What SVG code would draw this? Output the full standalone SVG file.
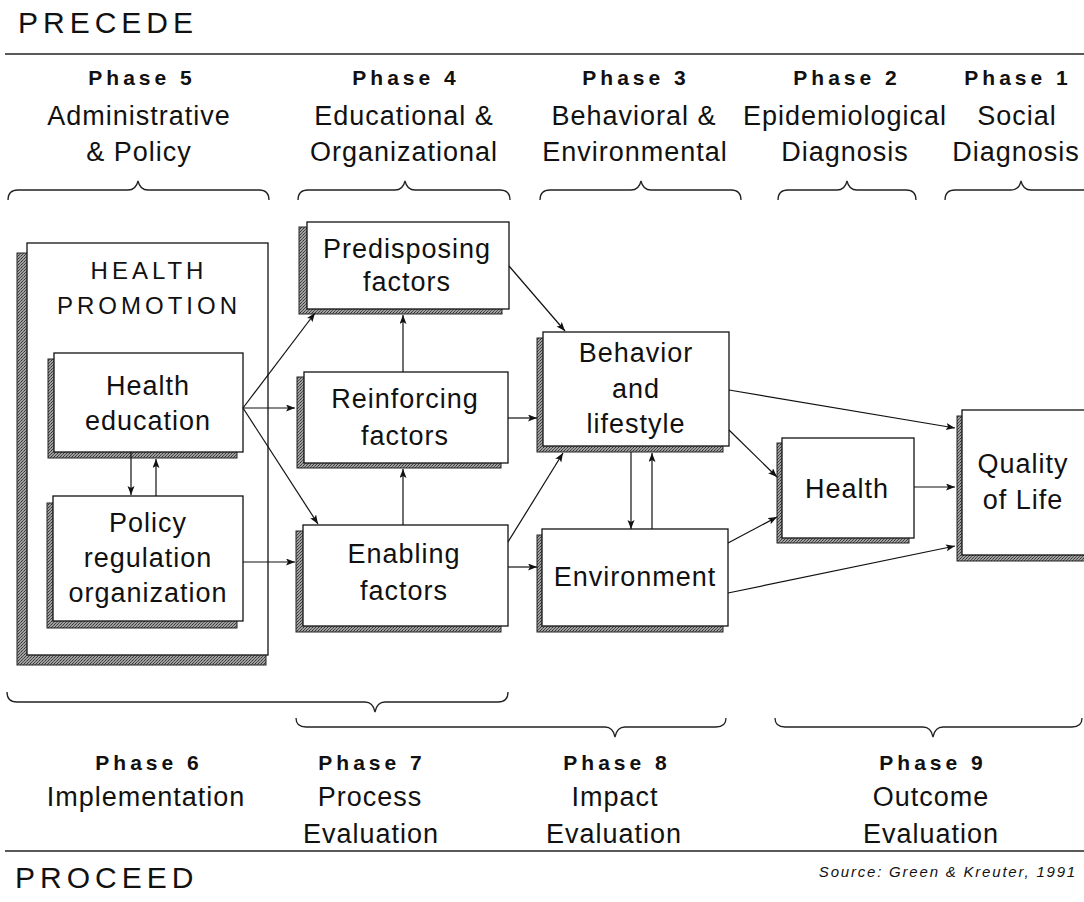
<svg xmlns="http://www.w3.org/2000/svg" width="1084" height="902" viewBox="0 0 1084 902">
<style>
.t{font-family:"Liberation Sans",Arial,sans-serif;font-size:27px;letter-spacing:1px;fill:#111;text-anchor:middle}
.h{font-family:"Liberation Sans",Arial,sans-serif;font-size:21px;font-weight:bold;letter-spacing:4px;fill:#111;text-anchor:middle}
.big{font-family:"Liberation Sans",Arial,sans-serif;font-size:30px;letter-spacing:5px;fill:#111}
.caps{font-family:"Liberation Sans",Arial,sans-serif;font-size:24px;letter-spacing:4px;fill:#111;text-anchor:middle}
.src{font-family:"Liberation Sans",Arial,sans-serif;font-size:15px;font-style:italic;letter-spacing:1.8px;fill:#111;text-anchor:end}
.box{fill:#fff;stroke:#111;stroke-width:1.3}
.sh{fill:url(#stip);stroke:#222;stroke-width:1}
.br{fill:none;stroke:#222;stroke-width:1.3}
.rule{stroke:#222;stroke-width:1.5}
.c line{stroke:#111;stroke-width:1.2;marker-end:url(#ah)}
</style>
<defs>
<pattern id="stip" width="3" height="3" patternUnits="userSpaceOnUse">
<rect width="3" height="3" fill="#a0a0a0"/>
<rect width="1" height="1" fill="#333"/>
<rect x="2" y="1" width="1" height="1" fill="#555"/>
<rect x="1" y="2" width="1" height="1" fill="#444"/>
</pattern>
<marker id="ah" markerUnits="userSpaceOnUse" markerWidth="10" markerHeight="8" refX="9" refY="3.5" orient="auto">
<path d="M0,0 L9,3.5 L0,7 L2,3.5 z" fill="#111"/>
</marker>
</defs>
<rect width="1084" height="902" fill="#fff"/>

<!-- titles and rules -->
<text class="big" x="18" y="33">PRECEDE</text>
<line class="rule" x1="5" y1="54" x2="1084" y2="54"/>
<line class="rule" x1="5" y1="851" x2="1084" y2="851"/>
<text class="big" x="15" y="888">PROCEED</text>
<text class="src" x="1077" y="877">Source: Green &amp; Kreuter, 1991</text>

<!-- top phase labels -->
<g id="phase5"><text class="h" x="142" y="85">Phase 5</text><text class="t" x="139" y="125">Administrative</text><text class="t" x="139" y="161">&amp; Policy</text></g>
<g id="phase4"><text class="h" x="406" y="85">Phase 4</text><text class="t" x="404" y="125">Educational &amp;</text><text class="t" x="404" y="161">Organizational</text></g>
<g id="phase3"><text class="h" x="636" y="85">Phase 3</text><text class="t" x="634" y="125">Behavioral &amp;</text><text class="t" x="635" y="161">Environmental</text></g>
<g id="phase2"><text class="h" x="847" y="85">Phase 2</text><text class="t" x="845" y="125">Epidemiological</text><text class="t" x="845" y="161">Diagnosis</text></g>
<g id="phase1"><text class="h" x="1018" y="85">Phase 1</text><text class="t" x="1017" y="125">Social</text><text class="t" x="1016" y="161">Diagnosis</text></g>

<!-- top braces -->
<g id="topbraces">
<path class="br" d="M8,200 Q8,190 18,190 L128,190 Q136,190 138,181 Q140,190 148,190 L259,190 Q269,190 269,200"/>
<path class="br" d="M298,200 Q298,190 308,190 L395,190 Q403,190 405,181 Q407,190 415,190 L500,190 Q510,190 510,200"/>
<path class="br" d="M540,200 Q540,190 550,190 L631,190 Q639,190 641,181 Q643,190 651,190 L731,190 Q741,190 741,200"/>
<path class="br" d="M778,200 Q778,190 788,190 L837,190 Q845,190 847,181 Q849,190 857,190 L906,190 Q916,190 916,200"/>
<path class="br" d="M945,200 Q945,190 955,190 L1011,190 Q1019,190 1021,181 Q1023,190 1031,190 L1084,190"/>
</g>

<!-- bottom braces -->
<g id="bottombraces">
<path class="br" d="M7,692 Q7,702 17,702 L365,702 Q373,702 375,712 Q377,702 385,702 L498,702 Q508,702 508,692"/>
<path class="br" d="M296,718 Q296,727 306,727 L605,727 Q613,727 615,737 Q617,727 625,727 L716,727 Q726,727 726,718"/>
<path class="br" d="M775,718 Q775,727 785,727 L923,727 Q931,727 933,737 Q935,727 943,727 L1072,727 Q1082,727 1082,718"/>
</g>

<!-- bottom phase labels -->
<g id="phase6"><text class="h" x="149" y="770">Phase 6</text><text class="t" x="146" y="806">Implementation</text></g>
<g id="phase7"><text class="h" x="372" y="770">Phase 7</text><text class="t" x="370" y="806">Process</text><text class="t" x="371" y="843">Evaluation</text></g>
<g id="phase8"><text class="h" x="617" y="770">Phase 8</text><text class="t" x="615" y="806">Impact</text><text class="t" x="614" y="843">Evaluation</text></g>
<g id="phase9"><text class="h" x="933" y="770">Phase 9</text><text class="t" x="931" y="806">Outcome</text><text class="t" x="931" y="843">Evaluation</text></g>

<!-- nodes -->
<g id="health-promotion">
<rect class="sh" x="17" y="253" width="249" height="412"/>
<rect class="box" x="27" y="243" width="241" height="412"/>
<text class="caps" x="149" y="279">HEALTH</text>
<text class="caps" x="149" y="314">PROMOTION</text>
</g>
<g id="health-education">
<rect class="sh" x="48" y="359" width="189" height="99"/>
<rect class="box" x="54" y="353" width="189" height="99"/>
<text class="t" x="148" y="395">Health</text>
<text class="t" x="148" y="430">education</text>
</g>
<g id="policy">
<rect class="sh" x="47" y="503" width="190" height="125"/>
<rect class="box" x="53" y="496" width="190" height="125"/>
<text class="t" x="148" y="532">Policy</text>
<text class="t" x="148" y="567">regulation</text>
<text class="t" x="148" y="602">organization</text>
</g>
<g id="predisposing">
<rect class="sh" x="299" y="227" width="203" height="87"/>
<rect class="box" x="307" y="222" width="202" height="87"/>
<text class="t" x="407" y="258">Predisposing</text>
<text class="t" x="407" y="291">factors</text>
</g>
<g id="reinforcing">
<rect class="sh" x="297" y="377" width="204" height="91"/>
<rect class="box" x="304" y="372" width="204" height="91"/>
<text class="t" x="405" y="408">Reinforcing</text>
<text class="t" x="405" y="445">factors</text>
</g>
<g id="enabling">
<rect class="sh" x="296" y="531" width="205" height="101"/>
<rect class="box" x="303" y="525" width="205" height="101"/>
<text class="t" x="404" y="563">Enabling</text>
<text class="t" x="404" y="600">factors</text>
</g>
<g id="behavior">
<rect class="sh" x="537" y="338" width="186" height="114"/>
<rect class="box" x="543" y="332" width="186" height="114"/>
<text class="t" x="636" y="362">Behavior</text>
<text class="t" x="636" y="398">and</text>
<text class="t" x="636" y="433">lifestyle</text>
</g>
<g id="environment">
<rect class="sh" x="537" y="535" width="186" height="97"/>
<rect class="box" x="542" y="529" width="186" height="97"/>
<text class="t" x="635" y="586">Environment</text>
</g>
<g id="health">
<rect class="sh" x="777" y="443" width="132" height="100"/>
<rect class="box" x="782" y="438" width="132" height="100"/>
<text class="t" x="847" y="498">Health</text>
</g>
<g id="quality">
<rect class="sh" x="957" y="416" width="140" height="145"/>
<rect class="box" x="962" y="410" width="140" height="145"/>
<text class="t" x="1023" y="473">Quality</text>
<text class="t" x="1023" y="509">of Life</text>
</g>

<!-- connectors -->
<g id="connectors" class="c">
<line x1="131" y1="452" x2="131" y2="495"/>
<line x1="156" y1="496" x2="156" y2="459"/>
<line x1="243" y1="408" x2="315" y2="313"/>
<line x1="243" y1="408" x2="295" y2="408"/>
<line x1="243" y1="408" x2="318" y2="524"/>
<line x1="243" y1="562" x2="295" y2="562"/>
<line x1="403" y1="372" x2="403" y2="315"/>
<line x1="403" y1="525" x2="403" y2="469"/>
<line x1="509" y1="266" x2="565" y2="331"/>
<line x1="508" y1="418" x2="537" y2="418"/>
<line x1="508" y1="542" x2="563" y2="453"/>
<line x1="508" y1="567" x2="537" y2="567"/>
<line x1="631" y1="452" x2="631" y2="529"/>
<line x1="652" y1="529" x2="652" y2="453"/>
<line x1="729" y1="390" x2="955" y2="428"/>
<line x1="729" y1="430" x2="777" y2="477"/>
<line x1="728" y1="543" x2="777" y2="517"/>
<line x1="728" y1="593" x2="955" y2="546"/>
<line x1="914" y1="487" x2="955" y2="487"/>
</g>
</svg>
